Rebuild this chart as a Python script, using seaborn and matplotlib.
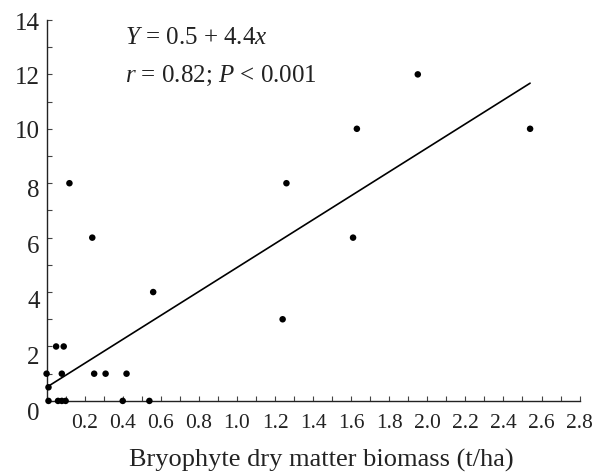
import numpy as np
import pandas as pd
import matplotlib
matplotlib.use('Agg')
import matplotlib.pyplot as plt
import matplotlib.transforms as mtransforms
import seaborn as sns
from matplotlib.ticker import MultipleLocator, FixedLocator, FixedFormatter

# bryophyte biomass (t/ha) vs count
biomass = [0.01, 0.06, 0.08, 0.10, 0.40, 0.54,
           0.01,
           0.00, 0.08, 0.25, 0.31, 0.42,
           0.05, 0.09,
           1.24,
           0.56,
           0.24, 1.61,
           0.12, 1.26,
           1.63, 2.54,
           1.95]
counts = [0, 0, 0, 0, 0, 0,
          0.5,
          1, 1, 1, 1, 1,
          2, 2,
          3,
          4,
          6, 6,
          8, 8,
          10, 10,
          12]

intercept = 0.5
slope = 4.4
fit_x = [0.0, 2.54]

x_ticks = [0.0, 0.2, 0.4, 0.6, 0.8, 1.0, 1.2, 1.4, 1.6, 1.8, 2.0, 2.2, 2.4, 2.6, 2.8]
x_labels = ['', '0.2', '0.4', '0.6', '0.8', '1.0', '1.2', '1.4', '1.6',
            '1.8', '2.0', '2.2', '2.4', '2.6', '2.8']
y_ticks = [0, 2, 4, 6, 8, 10, 12, 14]
y_labels = ['0', '2', '4', '6', '8', '10', '12', '14']

sns.set_style('ticks')
plt.rcParams['font.family'] = ['Liberation Serif', 'DejaVu Serif']
plt.rcParams['mathtext.fontset'] = 'custom'
plt.rcParams['mathtext.rm'] = 'Liberation Serif'
plt.rcParams['mathtext.it'] = 'Liberation Serif:italic'

df = pd.DataFrame({'biomass': biomass, 'count': counts})
fit = pd.DataFrame({'x': fit_x})
fit['y'] = intercept + slope * fit['x']

fig = plt.figure(figsize=(6.05, 4.75), dpi=100)
ax = fig.add_axes([0.077, 0.156, 0.881, 0.802])

sns.scatterplot(data=df, x='biomass', y='count', ax=ax, color='black',
                s=22, edgecolor='none', clip_on=False, zorder=3)
sns.lineplot(data=fit, x='x', y='y', ax=ax, color='black', linewidth=1.2)

ax.set_xlim(0, 2.8)
ax.set_ylim(0, 14)
sns.despine(ax=ax)
for sp in ['left', 'bottom']:
    ax.spines[sp].set_linewidth(1.0)
    ax.spines[sp].set_color('#222222')

ax.xaxis.set_major_locator(FixedLocator(x_ticks))
ax.xaxis.set_major_formatter(FixedFormatter(x_labels))
ax.xaxis.set_minor_locator(MultipleLocator(0.1))
ax.yaxis.set_major_locator(FixedLocator(y_ticks))
ax.yaxis.set_major_formatter(FixedFormatter(y_labels))
ax.yaxis.set_minor_locator(MultipleLocator(1))

ax.tick_params(axis='both', which='both', direction='in', length=3.5,
               width=0.8, color='#444444')
ax.tick_params(axis='x', which='major', labelsize=15.5, pad=9.5, labelcolor='#222222')
ax.tick_params(axis='y', which='major', labelsize=18, pad=5, labelcolor='#222222')

# the lower y labels in the original sit a little below their ticks
shift_px = [11, 9, 7, 7, 5.5, 1, 1.5, 2]
for lab, dy in zip(ax.get_yticklabels(), shift_px):
    lab.set_transform(lab.get_transform() +
                      mtransforms.ScaledTranslation(0, -dy / 100, fig.dpi_scale_trans))

ax.set_xlabel('Bryophyte dry matter biomass (t/ha)', fontsize=19,
              color='#222222')
ax.xaxis.set_label_coords(0.516, -0.125, transform=ax.transAxes)
ax.xaxis.label.set_va('top')
ax.set_ylabel('')

ax.text(0.41, 13.35, r'$Y$ = 0.5 + 4.4$x$', fontsize=18, va='center',
        ha='left', color='#222222')
ax.text(0.41, 11.95, r'$r$ = 0.82; $P$ < 0.001', fontsize=18, va='center',
        ha='left', color='#222222')

fig.savefig('out.png', dpi=100)
